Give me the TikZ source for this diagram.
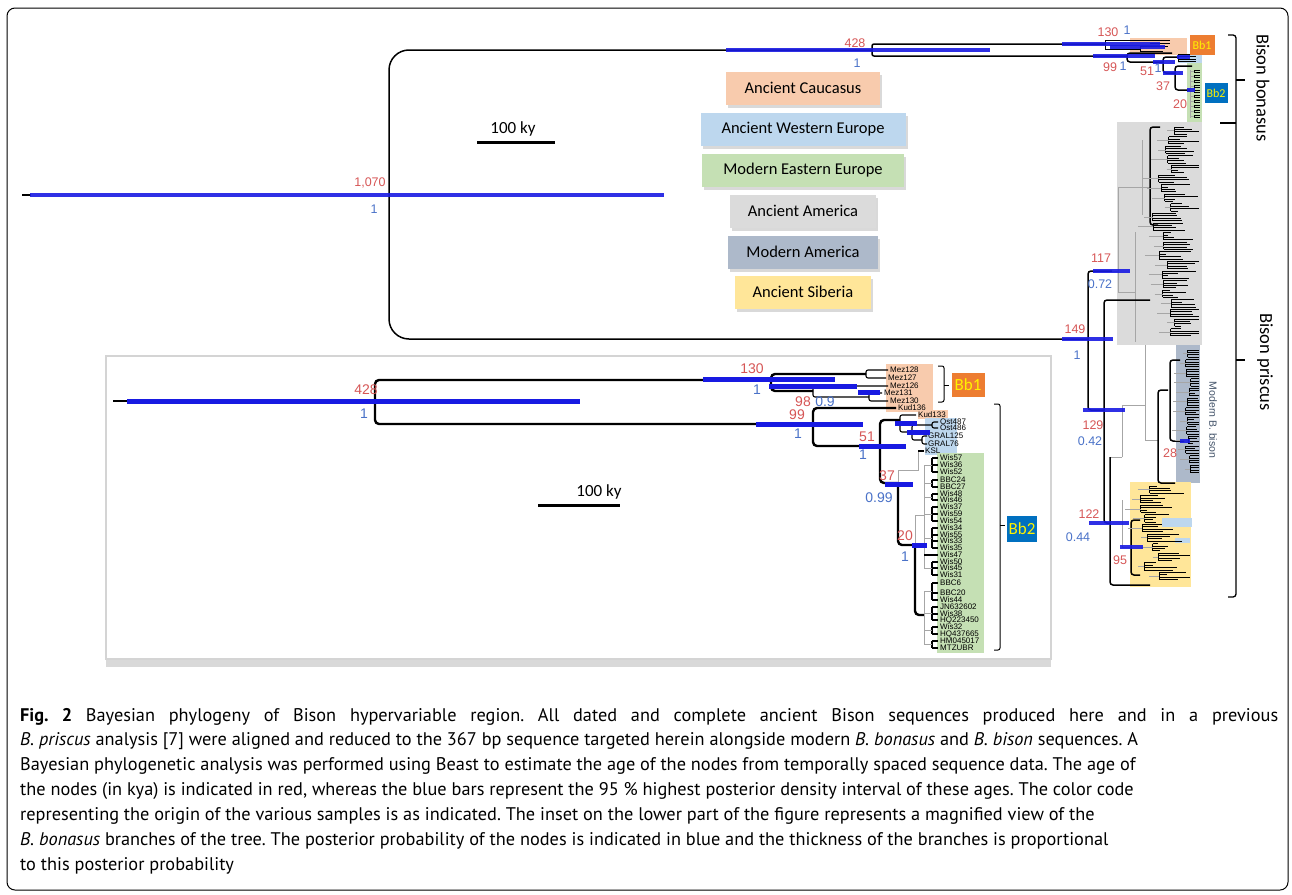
\documentclass[tikz,border=0pt]{standalone}
\usepackage{fontspec}
\setmainfont{Liberation Sans}
\newfontfamily\calib{Carlito}
\newfontfamily\capfont{PT Sans}
\usetikzlibrary{shadows}
\definecolor{agered}{RGB}{214,86,86}
\definecolor{ppblue}{RGB}{74,114,200}
\definecolor{hpdblue}{RGB}{24,26,226}
\definecolor{caucasus}{HTML}{F8CBAD}
\definecolor{westeu}{HTML}{BDD7EE}
\definecolor{easteu}{HTML}{C5E0B4}
\definecolor{ancam}{HTML}{DBDBDB}
\definecolor{modam}{HTML}{ADB9CA}
\definecolor{siberia}{HTML}{FFE699}
\definecolor{bbone}{HTML}{ED7D31}
\definecolor{bbtwo}{HTML}{0070C0}
\definecolor{slate}{HTML}{44546A}
\frenchspacing

% pseudo-random block of small clades: top y, groups, x min, x spread, x max, row step
\newcommand\randclade[6]{%
  \foreach \g in {1,...,#2}{%
    \pgfmathsetmacro\gy{#1+(\g-1)*4*#6}%
    \pgfmathsetmacro\xv{#3+rnd*#4}%
    \pgfmathsetmacro\xp{\xv-5-rnd*12}%
    \draw[tipln] (\xv,\gy) -- (\xv,\gy+3*#6);
    \draw[lo] (\xp,\gy+1.5*#6) -- (\xv,\gy+1.5*#6);
    \foreach \k in {0,...,3}{%
      \pgfmathsetmacro\xe{min(#5,\xv+5+rnd*30)}%
      \draw[tipln] (\xv,\gy+\k*#6) -- (\xe,\gy+\k*#6);
    }
  }%
}

\begin{document}
\begin{tikzpicture}[x=1pt, y=-1pt,
  brm/.style={line width=1.5pt, rounded corners=3pt},
  brin/.style={line width=2.4pt, rounded corners=4pt},
  lo/.style={line width=0.6pt, black!35},
  tipln/.style={line width=1pt},
  tipin/.style={line width=1.8pt},
  hpd/.style={line width=4pt, hpdblue, opacity=0.9},
  hpdin/.style={line width=5pt, hpdblue},
  age/.style={text=agered, inner sep=0pt, font=\fontsize{12.5}{12.5}\selectfont},
  pp/.style={text=ppblue, inner sep=0pt, font=\fontsize{12.5}{12.5}\selectfont},
  agein/.style={age, font=\fontsize{14}{14}\selectfont},
  ppin/.style={pp, font=\fontsize{14}{14}\selectfont},
  legbox/.style={minimum height=33pt, inner sep=0pt,
                 font=\calib\fontsize{16.5}{16.5}\selectfont,
                 drop shadow={shadow xshift=2pt, shadow yshift=-3pt, opacity=0.3}},
  tag/.style={inner sep=0pt, text=yellow, font=\calib\fontsize{15}{15}\selectfont},
  tipnm/.style={anchor=west, inner sep=0pt, font=\fontsize{8}{8}\selectfont},
  capline/.style={anchor=base west, inner sep=0pt, font=\capfont\fontsize{18.3}{20}\selectfont},
  clade/.style={line width=1.1pt, rounded corners=2pt},
]
\useasboundingbox (0,0) rectangle (1292,894);
\draw[line width=1pt, rounded corners=8pt] (7,8) rectangle (1288,890);

% colour backgrounds of the main tree
\fill[caucasus] (1130,38) rectangle (1187,55);
\fill[westeu] (1178,54) rectangle (1202,63);
\fill[easteu] (1187,63) rectangle (1202,122);
\fill[ancam] (1117,122) rectangle (1202,345);
\fill[modam] (1176,345) rectangle (1200,483);
\fill[siberia] (1130,482) rectangle (1191,587);
\fill[westeu] (1162,518) rectangle (1192,527);
\fill[westeu] (1175,538) rectangle (1190,543);

% main tree: root and bonasus part
\draw[line width=1.5pt] (22,195) -- (31,195);
\draw[brm, rounded corners=20pt] (872,50) -- (389,50) -- (389,339) -- (1088,339);
\draw[brm, rounded corners=2pt] (1105,44) -- (872,44) -- (872,56) -- (1127,56);
\draw[tipln] (1105,40) -- (1105,49);
\draw[tipln] (1105,40) -- (1170,40);
\draw[tipln] (1150,43) -- (1170,43);
\draw[tipln] (1105,49) -- (1140,49);
\draw[tipln] (1140,46) -- (1140,51);
\draw[tipln] (1140,46) -- (1168,46);
\draw[tipln] (1140,51) -- (1163,51);
\draw[brm] (1172,53) -- (1127,53) -- (1127,62) -- (1163,62);
\draw[brm] (1178,57) -- (1163,57) -- (1163,73) -- (1175,73);
\draw[tipln] (1178,54) -- (1178,61);
\foreach \yy in {54,56.5,59,61} \draw[tipln] (1178,\yy) -- (1196,\yy);
\draw[brm] (1192,66) -- (1175,66) -- (1175,90) -- (1190,90);
\draw[lo] (1190,70) -- (1190,118);
\foreach \yy in {70,75,...,116}{
  \draw[tipln] (1194,\yy) -- (1194,\yy+2.4);
  \draw[lo] (1190,\yy+1.2) -- (1194,\yy+1.2);
  \draw[tipln] (1194,\yy) -- (1200,\yy);
  \draw[tipln] (1194,\yy+2.4) -- (1200,\yy+2.4);
}

% main tree: priscus part
\draw[brm] (1112,271) -- (1088,271) -- (1088,410) -- (1104,410);
\draw[lo] (1150,187) -- (1118,187) -- (1118,292) -- (1135,292);
\draw[lo] (1112,271) -- (1118,271);
\draw[brm] (1160,127) -- (1150,127) -- (1150,225) -- (1158,225);
\draw[lo] (1135,232) -- (1135,342);
\draw[lo] (1142,140) -- (1142,215);
\draw[brm] (1150,300) -- (1104,300) -- (1104,523) -- (1110,523);
\draw[lo] (1122,457) -- (1110,457);
\draw[brm] (1110,457) -- (1110,585) -- (1150,585);
\draw[lo] (1122,457) -- (1122,405) -- (1145,405) -- (1145,345);
\draw[lo] (1145,405) -- (1145,440) -- (1158,440);
\draw[brm] (1168,390) -- (1158,390) -- (1158,483) -- (1175,483);
\draw[brm] (1180,360) -- (1170,360) -- (1170,441) -- (1184,441);
\draw[lo] (1122,500) -- (1122,547) -- (1131,547);
\draw[brm] (1140,520) -- (1131,520) -- (1131,575) -- (1140,575);
\pgfmathsetseed{27}
\randclade{127}{22}{1152}{28}{1199}{2.4}
\randclade{350}{13}{1185}{6}{1199}{2.4}
\randclade{486}{10}{1140}{22}{1190}{2.4}

% HPD bars, main tree
\draw[hpd] (30,195) -- (664,195);
\foreach \xa/\xb/\yy in {726/990/50, 1062/1160/44, 1110/1165/47, 1093/1155/56,
  1153/1175/62, 1163/1183/73, 1187/1195/90, 1177/1190/57, 1093/1130/271,
  1062/1113/339, 1083/1125/410, 1180/1190/441, 1089/1129/523, 1120/1143/547}
  \draw[hpd] (\xa,\yy) -- (\xb,\yy);

% node ages and posterior probabilities, main tree
\node[age] (a-root) at (370,183) {1,070};
\node[pp] (p-root) at (374,209) {1};
\node[age] (a-428) at (855,43) {428};
\node[pp] (p-428) at (857,63) {1};
\node[age] (a-130) at (1108,32) {130};
\node[pp] (p-130) at (1127,30) {1};
\node[age] (a-99) at (1110,67) {99};
\node[pp] (p-99) at (1123,66) {1};
\node[age] (a-51) at (1147,71) {51};
\node[pp] (p-51) at (1158,68) {1};
\node[age] (a-37) at (1163,86) {37};
\node[age] (a-20) at (1180,104) {20};
\node[age] (a-117) at (1101,258) {117};
\node[pp] (p-117) at (1100,284) {0.72};
\node[age] (a-149) at (1075,329) {149};
\node[pp] (p-149) at (1077,355) {1};
\node[age] (a-129) at (1093,425) {129};
\node[pp] (p-129) at (1090,441) {0.42};
\node[age] (a-28) at (1170,453) {28};
\node[age] (a-122) at (1089,514) {122};
\node[pp] (p-122) at (1078,537) {0.44};
\node[age] (a-95) at (1120,560) {95};

% clade tags and braces
\node[tag, fill=bbone, minimum width=25pt, minimum height=20pt, font=\calib\fontsize{12}{12}\selectfont] (bb1m) at (1202,45) {Bb1};
\node[tag, fill=bbtwo, minimum width=23pt, minimum height=20pt, font=\calib\fontsize{12}{12}\selectfont] (bb2m) at (1216,93) {Bb2};
\node[rotate=-90, text=slate, inner sep=0pt, font=\fontsize{10.5}{10.5}\selectfont] (modbison) at (1213,420) {Modern B. bison};
\draw[line width=1.3pt, rounded corners=3pt] (1228,35) -- (1236,35) -- (1236,597) -- (1228,597);
\draw[line width=1.3pt, rounded corners=3pt] (1220,123) -- (1236,123);
\draw[line width=1.3pt] (1236,80) -- (1245,80);
\draw[line width=1.3pt] (1236,360) -- (1245,360);
\node[rotate=-90, inner sep=0pt, font=\calib\fontsize{18.5}{18.5}\selectfont] (bonasus) at (1263,88) {Bison bonasus};
\node[rotate=-90, inner sep=0pt, font=\calib\fontsize{18.5}{18.5}\selectfont] (priscus) at (1265,362) {Bison priscus};

% legend and scale bar
\foreach \nm/\w/\yy/\txt in {caucasus/154/88/Ancient Caucasus, westeu/205/129/Ancient Western Europe,
  easteu/202/170/Modern Eastern Europe, ancam/146/211/Ancient America,
  modam/150/252/Modern America, siberia/136/292/Ancient Siberia}
  \node[legbox, fill=\nm, minimum width=\w pt] (leg-\nm) at (803,\yy) {\txt};
\node[inner sep=0pt, font=\calib\fontsize{17}{17}\selectfont] (scale-main) at (513,129) {100 ky};
\draw[line width=3pt] (477,142) -- (555,142);

% inset frame
\draw[line width=2.5pt, draw=black!17, fill=white,
  drop shadow={shadow xshift=0pt, shadow yshift=-8pt, opacity=0.3}] (106,356) rectangle (1051,659);

% inset backgrounds
\fill[caucasus] (886,364) rectangle (933,412);
\fill[caucasus] (918,410) rectangle (948,419);
\fill[westeu] (925,418) rectangle (957,455);
\fill[easteu] (937,453) rectangle (984,653);

% inset tree
\draw[line width=2.5pt] (113,401) -- (127,401);
\draw[brin] (771,380) -- (375,380) -- (375,424) -- (813,424);
\draw[brin] (866,374) -- (771,374) -- (771,391) -- (813,391);
\draw[clade] (888,370) -- (866,370) -- (866,378) -- (886,378);
\draw[clade] (888,386) -- (813,386) -- (813,397) -- (869,397);
\draw[clade] (882,393) -- (869,393) -- (869,401) -- (888,401);
\draw[brin] (896,408) -- (813,408) -- (813,446) -- (880,446);
\draw[brin] (900,420) -- (880,420) -- (880,483) -- (898,483);
\draw[clade] (916,415) -- (900,415) -- (900,432) -- (912,432);
\draw[clade] (932,425) -- (912,425) -- (912,440) -- (922,440);
\draw[clade] (938,422) -- (932,422) -- (932,428) -- (938,428);
\draw[clade] (927,436) -- (922,436) -- (922,444) -- (927,444);
\draw[lo] (898,483) -- (898,470) -- (918,470) -- (918,451);
\draw[tipin] (918,451) -- (924,451);
\draw[brin] (898,483) -- (898,545) -- (915,545);
\draw[lo] (915,545) -- (915,515) -- (924,515);
\draw[brin] (915,545) -- (915,615) -- (924,615);
\draw[lo] (924,465) -- (924,568);
\draw[lo] (924,591) -- (924,644);
\foreach \ya/\yb in {458/472, 480/487, 494/500, 507/521, 528/548, 562/575,
  583/600, 607/620, 627/634, 641/648}{
  \draw[tipin] (932,\ya) -- (932,\yb);
  \draw[lo] (924,{(\ya+\yb)/2}) -- (932,{(\ya+\yb)/2});
}
\draw[tipin] (924,555) -- (938,555);
\foreach \yy in {458,465,472,480,487,494,500,507,514,521,528,535,541,548,562,568,575,
  583,593,600,607,614,620,627,634,641,648}
  \draw[tipin] (932,\yy) -- (938,\yy);

% inset tip names
\foreach \nm/\xx/\yy in {Mez128/890/370, Mez127/888/378, Mez126/890/386, Mez131/884/393,
  Mez130/890/401, Kud136/898/408, Kud133/918/415, Ost487/940/422, Ost486/940/428,
  GRAL125/928/436, GRAL76/928/444, KSL/925/451, Wis57/940/458, Wis36/940/465,
  Wis52/940/472, BBC24/940/480, BBC27/940/487, Wis48/940/494, Wis46/940/500,
  Wis37/940/507, Wis59/940/514, Wis54/940/521, Wis34/940/528, Wis55/940/535,
  Wis33/940/541, Wis35/940/548, Wis47/940/555, Wis50/940/562, Wis45/940/568,
  Wis31/940/575, BBC6/940/583, BBC20/940/593, Wis44/940/600, JN632602/940/607,
  Wis38/940/614, HQ223450/940/620.5, Wis32/940/627, HQ437665/940/634,
  HM045017/940/641, MTZUBR/940/648}
  \node[tipnm] (tip-\nm) at (\xx,\yy) {\nm};

% HPD bars, inset
\draw[hpdin] (127,401) -- (580,401);
\foreach \xa/\xb/\yy in {703/835/379, 769/857/386, 858/880/392, 756/863/424,
  859/906/446, 895/917/423, 907/930/432, 885/913/484, 912/927/545}
  \draw[hpdin] (\xa,\yy) -- (\xb,\yy);

% inset labels
\node[agein] (ai-428) at (366,390) {428};
\node[ppin] (pi-428) at (364,414) {1};
\node[agein] (ai-130) at (752,369) {130};
\node[ppin] (pi-130) at (757,390) {1};
\node[agein] (ai-98) at (803,402) {98};
\node[ppin] (pi-98) at (825,402) {0.9};
\node[agein] (ai-99) at (797,415) {99};
\node[ppin] (pi-99) at (798,434) {1};
\node[agein] (ai-51) at (867,437) {51};
\node[ppin] (pi-51) at (863,455) {1};
\node[agein] (ai-37) at (887,476) {37};
\node[ppin] (pi-37) at (879,498) {0.99};
\node[agein] (ai-20) at (905,536) {20};
\node[ppin] (pi-20) at (905,557) {1};

\draw[line width=1pt, rounded corners=2pt] (938,366) -- (944,366) -- (944,402) -- (938,402);
\draw[line width=1pt] (944,385) -- (949,385);
\draw[line width=1pt, rounded corners=2pt] (994,404) -- (1000,404) -- (1000,650) -- (994,650);
\draw[line width=1pt] (1000,525) -- (1005,525);
\node[tag, fill=bbone, minimum width=33pt, minimum height=24pt, font=\calib\fontsize{17}{17}\selectfont] (bb1i) at (968,385) {Bb1};
\node[tag, fill=bbtwo, minimum width=30pt, minimum height=26pt, font=\calib\fontsize{17}{17}\selectfont] (bb2i) at (1022,529) {Bb2};
\node[inner sep=0pt, font=\calib\fontsize{17}{17}\selectfont] (scale-in) at (599,492) {100 ky};
\draw[line width=3pt] (538,505) -- (620,505);

% caption
\node[capline] (cap1) at (20,721) {\hbox to 1258pt{\textbf{Fig. 2} Bayesian phylogeny of Bison hypervariable region. All dated and complete ancient Bison sequences produced here and in a previous}};
\node[capline] (cap2) at (20,745) {\textit{B. priscus} analysis [7] were aligned and reduced to the 367 bp sequence targeted herein alongside modern \textit{B. bonasus} and \textit{B. bison} sequences. A};
\node[capline] (cap3) at (20,770) {Bayesian phylogenetic analysis was performed using Beast to estimate the age of the nodes from temporally spaced sequence data. The age of};
\node[capline] (cap4) at (20,795) {the nodes (in kya) is indicated in red, whereas the blue bars represent the 95 \% highest posterior density interval of these ages. The color code};
\node[capline] (cap5) at (20,820) {representing the origin of the various samples is as indicated. The inset on the lower part of the figure represents a magnified view of the};
\node[capline] (cap6) at (20,845) {\textit{B. bonasus} branches of the tree. The posterior probability of the nodes is indicated in blue and the thickness of the branches is proportional};
\node[capline] (cap7) at (20,870) {to this posterior probability};
\end{tikzpicture}
\end{document}
